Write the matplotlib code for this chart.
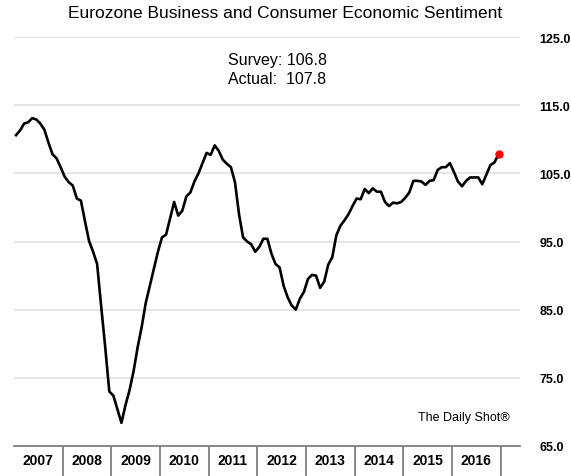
import matplotlib.pyplot as plt
import numpy as np

# ── Data (monthly, Jan 2007 – Dec 2016) ────────────────────────────────────
years = ['2007', '2008', '2009', '2010', '2011', '2012', '2013', '2014', '2015', '2016']
sentiment = [
    110.6, 111.3, 112.3, 112.5, 113.1, 112.9, 112.3, 111.4, 109.5, 107.8, 107.2, 105.9,  # 2007
    104.5, 103.7, 103.2, 101.3, 101.0, 98.0, 95.1, 93.5, 91.7, 85.5, 79.5, 73.0,          # 2008
    72.4, 70.4, 68.4, 71.0, 73.2, 76.0, 79.5, 82.5, 86.0, 88.5, 91.0, 93.5,               # 2009
    95.6, 96.0, 98.4, 100.8, 98.8, 99.5, 101.6, 102.2, 103.8, 105.0, 106.5, 108.0,        # 2010
    107.7, 109.1, 108.3, 107.0, 106.4, 105.9, 103.7, 99.0, 95.6, 95.0, 94.6, 93.5,        # 2011
    94.2, 95.4, 95.4, 93.2, 91.7, 91.2, 88.5, 86.8, 85.6, 85.0, 86.6, 87.6,               # 2012
    89.5, 90.1, 90.0, 88.2, 89.1, 91.6, 92.7, 95.9, 97.3, 98.1, 99.0, 100.2,              # 2013
    101.3, 101.2, 102.7, 102.1, 102.8, 102.3, 102.3, 100.8, 100.2, 100.7, 100.6, 100.8,   # 2014
    101.4, 102.2, 103.9, 103.9, 103.8, 103.3, 103.9, 104.0, 105.5, 105.9, 105.9, 106.5,   # 2015
    105.2, 103.8, 103.1, 103.9, 104.4, 104.4, 104.4, 103.4, 104.8, 106.2, 106.6, 107.8,   # 2016
]
y_ticks = [65.0, 75.0, 85.0, 95.0, 105.0, 115.0, 125.0]
survey, actual = 106.8, 107.8

x = np.arange(len(sentiment))

fig = plt.figure(figsize=(5.71, 4.77), dpi=100)
ax = fig.add_axes([14 / 571, 1 - 447 / 477, (520 - 14) / 571, (447 - 38) / 477])

ax.set_ylim(65, 125)
ax.set_xlim(-0.5, 124.3)

for yv in y_ticks[1:]:
    ax.axhline(yv, color='#e2e2e2', linewidth=1.2, zorder=0)

ax.plot(x, sentiment, color='black', linewidth=1.9, zorder=3)
ax.plot(x[-1], sentiment[-1], 'o', color='#ff0000', markersize=5, zorder=4)

# axis styling
for side in ['top', 'left', 'right']:
    ax.spines[side].set_visible(False)
ax.spines['bottom'].set_color('#808080')
ax.spines['bottom'].set_linewidth(1.3)

ax.yaxis.tick_right()
ax.set_yticks(y_ticks)
ax.set_yticklabels([f'{v:.1f}' for v in y_ticks], fontsize=9, fontweight='bold',
                   family='Liberation Sans')
ax.tick_params(axis='y', length=0, pad=14)

# year separators as ticks, labels as minor ticks
ax.set_xticks(np.arange(11.5, 120, 12))
ax.set_xticklabels([])
ax.tick_params(axis='x', which='major', length=22, width=1.3, color='#808080', direction='out')
ax.set_xticks(np.arange(5.5, 120, 12), minor=True)
ax.set_xticklabels(years, minor=True, fontsize=10, fontweight='bold', family='Liberation Sans')
ax.tick_params(axis='x', which='minor', length=0, pad=5)

fig.text(0.5, 0.972, 'Eurozone Business and Consumer Economic Sentiment',
         ha='center', va='center', fontsize=12.5, family='Liberation Sans')
fig.text(277 / 571, 1 - 60 / 477, f'Survey: {survey}', ha='center', va='center',
         fontsize=11.5, family='Liberation Sans')
fig.text(277 / 571, 1 - 80 / 477, f'Actual:  {actual}', ha='center', va='center',
         fontsize=11.5, family='Liberation Sans')
fig.text(510 / 571, 1 - 418 / 477, 'The Daily Shot®', ha='right', va='center',
         fontsize=9, family='Liberation Sans')

fig.savefig('out.png', dpi=100)
